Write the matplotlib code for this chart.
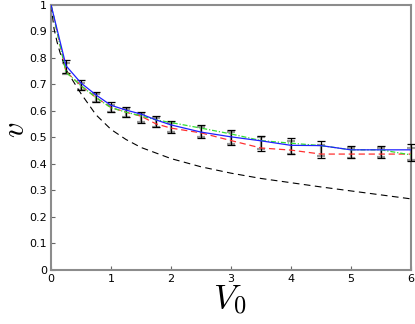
import numpy as np
import matplotlib.pyplot as plt

plt.rcParams['mathtext.fontset'] = 'cm'

# datos
x = [0, 0.25, 0.5, 0.75, 1, 1.25, 1.5, 1.75, 2, 2.5, 3, 3.5, 4, 4.5, 5, 5.5, 6]
v_blue = [1.0, 0.770, 0.705, 0.660, 0.621, 0.603, 0.588, 0.566, 0.547, 0.520, 0.502, 0.487, 0.470, 0.469, 0.453, 0.453, 0.453]
v_green = [1.0, 0.746, 0.695, 0.650, 0.612, 0.595, 0.581, 0.566, 0.556, 0.535, 0.513, 0.488, 0.478, 0.469, 0.453, 0.453, 0.434]
v_red = [1.0, 0.748, 0.695, 0.650, 0.613, 0.595, 0.580, 0.551, 0.535, 0.517, 0.488, 0.460, 0.452, 0.437, 0.437, 0.437, 0.437]

# barras de error
xe = x[1:]
ve_black = [0.767, 0.697, 0.653, 0.615, 0.597, 0.575, 0.560, 0.540, 0.522, 0.500, 0.477, 0.467, 0.455, 0.444, 0.445, 0.442]
err_black = [0.025, 0.018, 0.018, 0.018, 0.019, 0.019, 0.020, 0.022, 0.024, 0.027, 0.028, 0.029, 0.031, 0.022, 0.021, 0.032]
ve_grey = [0.760, 0.692, 0.648, 0.610, 0.592, 0.572, 0.556, 0.538, 0.520, 0.498, 0.478, 0.463, 0.450, 0.442, 0.442, 0.437]
err_grey = [0.020, 0.014, 0.014, 0.014, 0.015, 0.015, 0.016, 0.018, 0.020, 0.022, 0.023, 0.024, 0.022, 0.018, 0.017, 0.024]

# curva discontinua negra
xd = [0, 0.05, 0.1, 0.15, 0.25, 0.5, 0.75, 1, 1.25, 1.5, 2, 2.5, 3, 3.5, 4, 4.5, 5, 5.5, 6]
vd = [1.0, 0.91, 0.86, 0.82, 0.755, 0.665, 0.585, 0.53, 0.492, 0.462, 0.42, 0.389, 0.365, 0.345, 0.329, 0.313, 0.298, 0.283, 0.268]

fig = plt.figure(figsize=(4.15, 3.24), dpi=100)
ax = fig.add_axes([0.123, 0.167, 0.867, 0.818])

ax.errorbar(xe, ve_grey, yerr=err_grey, fmt='none', ecolor='0.6', elinewidth=1.6, capsize=3, capthick=1.6, zorder=2, clip_on=False)
ax.errorbar(xe, ve_black, yerr=err_black, fmt='none', ecolor='k', elinewidth=0.9, capsize=3, capthick=0.9, zorder=3, clip_on=False)

ax.plot(xd, vd, color='k', lw=0.8, dashes=(6, 4), zorder=4)
ax.plot(x, v_red, color='#ff3030', lw=0.9, dashes=(5, 3), zorder=4)
ax.plot(x, v_green, color='#30e030', lw=0.9, dashes=(4, 1.5, 1, 1.5), zorder=5)
ax.plot(x, v_blue, color='#2020ff', lw=0.9, zorder=6)

ax.set_xlim(0, 6)
ax.set_ylim(0, 1)
ax.set_xticks(range(7))
ax.set_yticks(np.arange(0, 1.01, 0.1))
ax.set_yticklabels(['0', '0.1', '0.2', '0.3', '0.4', '0.5', '0.6', '0.7', '0.8', '0.9', '1'])
ax.tick_params(direction='in', length=3, labelsize=8, color='0.4', pad=3)
for s in ax.spines.values():
    s.set_color('0.55')
    s.set_linewidth(1.5)

fig.text(230 / 415, 1 - 300 / 324, '$V_0$', fontsize=25, ha='center', va='center')
fig.text(15 / 415, 1 - 130 / 324, '$v$', fontsize=22, ha='center', va='center', rotation=90)

fig.savefig('out.png', dpi=100)
